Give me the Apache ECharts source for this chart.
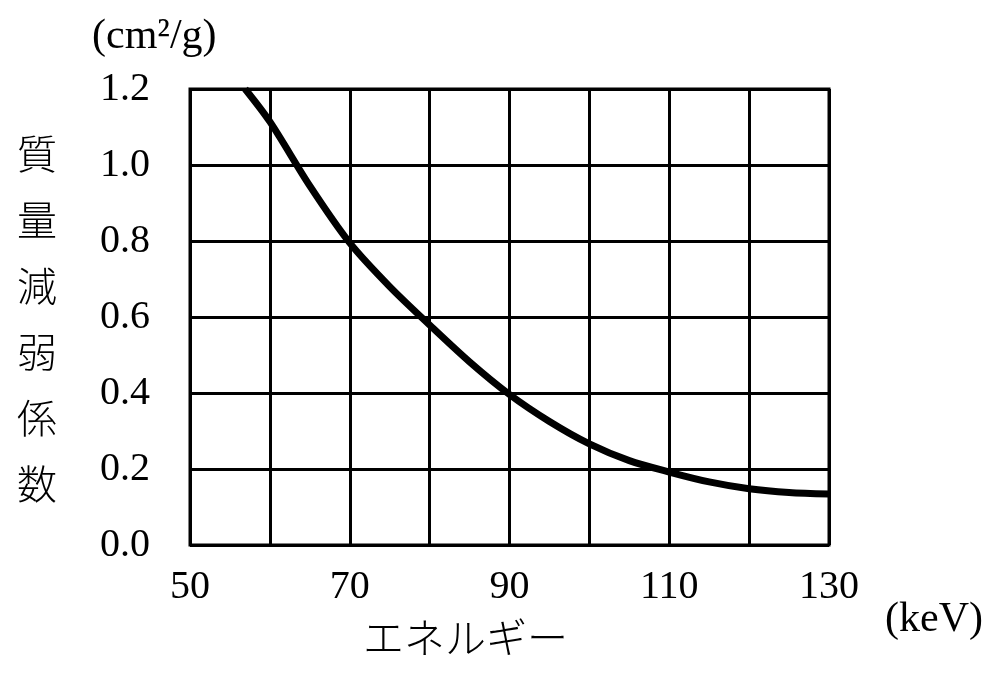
<!DOCTYPE html>
<html>
<head>
<meta charset="utf-8">
<script src="https://cdn.jsdelivr.net/npm/echarts@6/dist/echarts.min.js"></script>
<style>
html, body { margin: 0; padding: 0; background: #fff; }
#chart { width: 1000px; height: 673px; }
</style>
</head>
<body>
<div id="chart"></div>
<script>
// energy (keV) and mass attenuation coefficient (cm2/g)
var energy = [56.9, 60, 65, 70, 75, 80, 85, 90, 95, 100, 105, 110, 115, 120, 125, 130];
var coeff = [1.2, 1.114, 0.945, 0.795, 0.68, 0.579, 0.482, 0.396, 0.325, 0.266, 0.222, 0.192, 0.166, 0.148, 0.138, 0.134];
var xTicks = [50, 70, 90, 110, 130];
var yTicks = ['0.0', '0.2', '0.4', '0.6', '0.8', '1.0', '1.2'];
var yTitle = '質量減弱係数';

var numFont = '"Liberation Serif", "DejaVu Serif", serif';
var jpFont = '"Noto Sans CJK JP", sans-serif';

var points = energy.map(function (e, i) { return [e, coeff[i]]; });

var chart = echarts.init(document.getElementById('chart'));
chart.setOption({
    animation: false,
    grid: {
        left: 190, right: 171, top: 89, bottom: 128,
        show: true, borderColor: '#000', borderWidth: 3
    },
    xAxis: {
        type: 'value', min: 50, max: 130, interval: 10,
        axisLine: { show: false },
        axisTick: { show: false },
        splitLine: { lineStyle: { color: '#000', width: 3 } },
        axisLabel: {
            margin: 22, color: '#000', fontFamily: numFont, fontSize: 40,
            formatter: function (v) { return xTicks.indexOf(v) > -1 ? String(v) : ''; }
        }
    },
    yAxis: {
        type: 'value', min: 0, max: 1.2, interval: 0.2,
        axisLine: { show: false },
        axisTick: { show: false },
        splitLine: { lineStyle: { color: '#000', width: 3 } },
        axisLabel: {
            margin: 40, color: '#000', fontFamily: numFont, fontSize: 40,
            formatter: function (v) { return yTicks[Math.round(v / 0.2)]; }
        }
    },
    series: [{
        type: 'line',
        data: points,
        smooth: 0.3,
        showSymbol: false,
        lineStyle: { color: '#000', width: 7 }
    }],
    graphic: [
        { type: 'text', left: 92, top: 16,
          style: { text: '(cm²/g)', font: '42px ' + numFont, fill: '#000' } },
        { type: 'text', left: 885, top: 599,
          style: { text: '(keV)', font: '42px ' + numFont, fill: '#000' } },
        { type: 'text', left: 363, top: 617,
          style: { text: 'エネルギー', font: '300 41px ' + jpFont, fill: '#000' } },
        { type: 'text', left: 17, top: 121,
          style: { text: yTitle.split('').join('\n'), font: '300 40px ' + jpFont,
                   lineHeight: 66, fill: '#000' } }
    ]
});
</script>
</body>
</html>
